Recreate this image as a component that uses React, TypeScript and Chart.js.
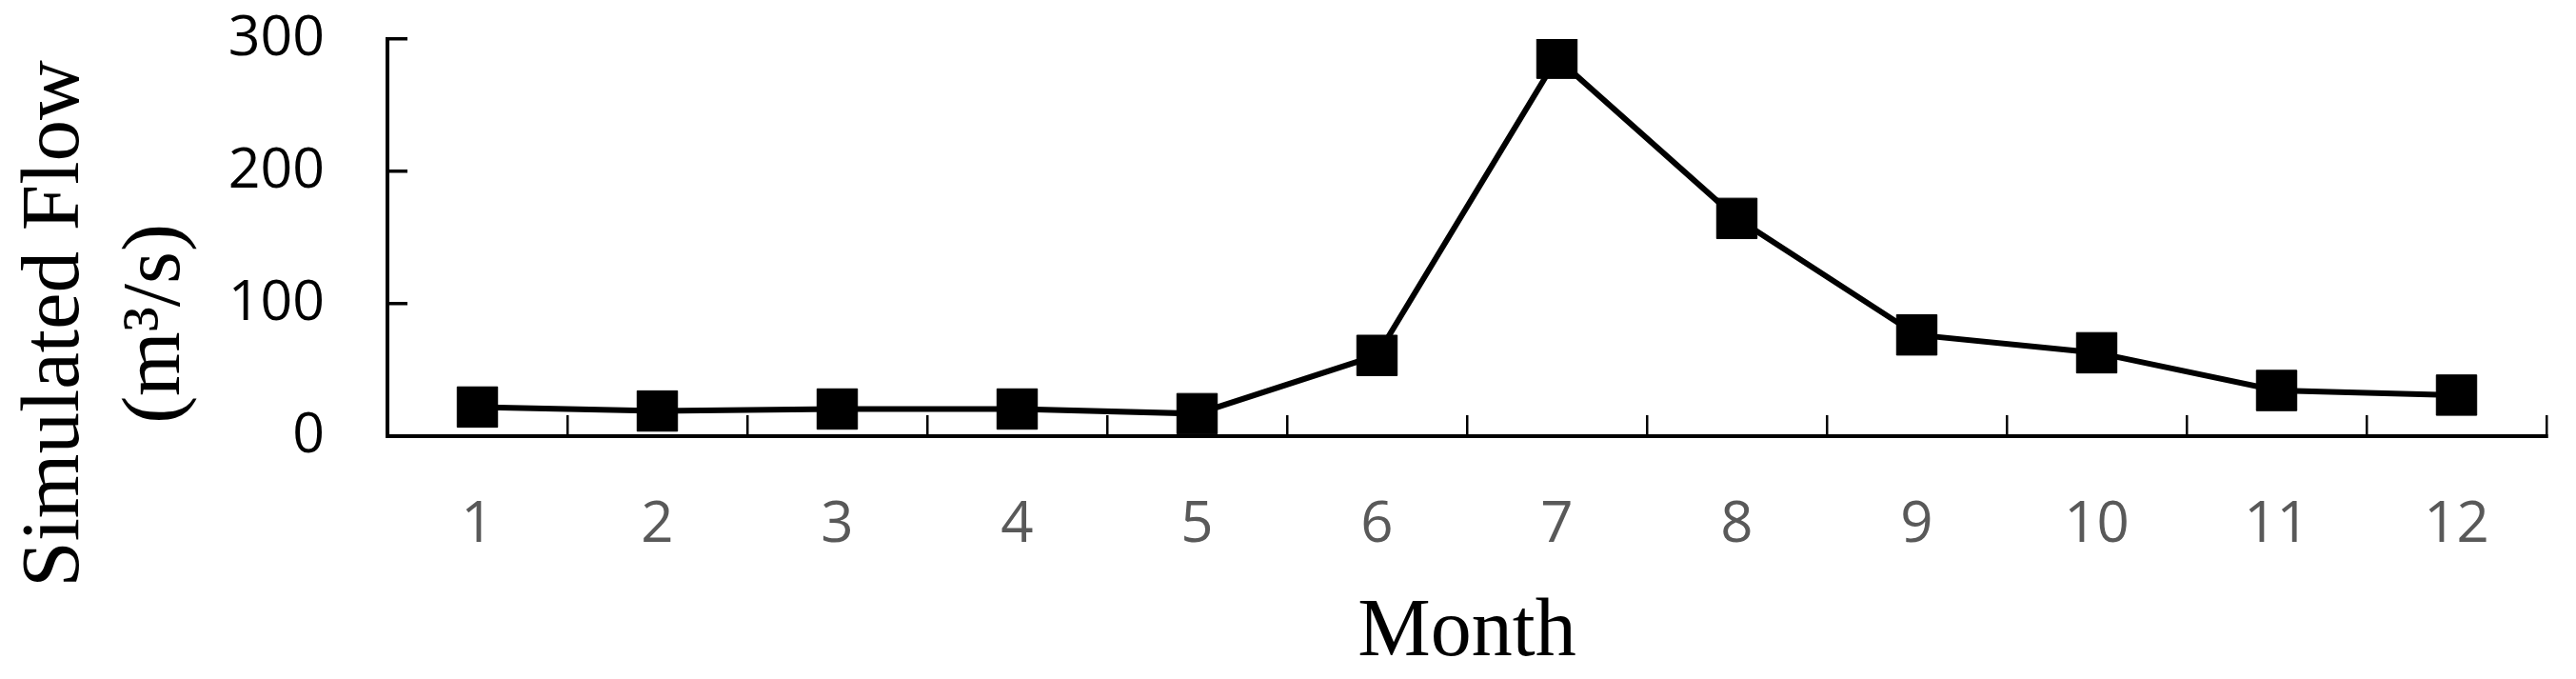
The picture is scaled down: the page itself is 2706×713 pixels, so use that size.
import React, { useEffect, useRef } from "react";
import { Chart, registerables } from "chart.js";

Chart.register(...registerables);

// ---- data ----
const months = ["1", "2", "3", "4", "5", "6", "7", "8", "9", "10", "11", "12"];
const simulatedFlow = [22, 19, 20.5, 20.5, 17, 61, 285.5, 164.5, 76.5, 63, 34.5, 31];
const yTickValues = [0, 100, 200, 300];
const yTitleLines = ["Simulated Flow", "(m³/s)"];
const xTitle = "Month";

const W = 2706;
const H = 713;

export default function App() {
  const ref = useRef<HTMLCanvasElement | null>(null);

  useEffect(() => {
    if (!ref.current) return;

    const yTitlePlugin = {
      id: "yTitleTwoLines",
      afterDraw(chart: any) {
        const ctx = chart.ctx;
        ctx.save();
        ctx.translate(0, 340);
        ctx.rotate(-Math.PI / 2);
        ctx.font = "87px 'Liberation Serif'";
        ctx.fillStyle = "#000000";
        ctx.textAlign = "center";
        ctx.textBaseline = "alphabetic";
        ctx.fillText(yTitleLines[0], 0, 82);
        ctx.fillText(yTitleLines[1], 0, 188);
        ctx.restore();
      },
    };

    const chart = new Chart(ref.current, {
      type: "line",
      data: {
        labels: months,
        datasets: [
          {
            label: "Simulated Flow",
            data: simulatedFlow,
            borderColor: "#000000",
            backgroundColor: "#000000",
            borderWidth: 6,
            pointStyle: "rect",
            pointRadius: 30,
            pointHoverRadius: 30,
            pointBorderWidth: 1,
            pointBackgroundColor: "#000000",
            pointBorderColor: "#000000",
            tension: 0,
            fill: false,
          },
        ],
      },
      options: {
        responsive: false,
        animation: false,
        devicePixelRatio: 1,
        layout: { padding: { left: 0, right: 21, top: 41, bottom: 0 } },
        plugins: {
          legend: { display: false },
          tooltip: { enabled: false },
        },
        scales: {
          x: {
            type: "category",
            offset: true,
            grid: {
              offset: true,
              drawOnChartArea: false,
              drawTicks: true,
              tickLength: -22,
              lineWidth: 2.5,
              color: "#000000",
            },
            border: { display: true, color: "#000000", width: 4 },
            ticks: {
              color: "#595959",
              padding: 80,
              font: { family: "'Open Sans'", size: 60 },
              maxRotation: 0,
              autoSkip: false,
            },
            title: {
              display: true,
              text: xTitle,
              color: "#000000",
              font: { family: "'Liberation Serif'", size: 86, lineHeight: 1.1 },
              padding: 0,
            },
            afterFit(scale: any) {
              scale.height = 255;
            },
          },
          y: {
            type: "linear",
            min: 0,
            max: 300,
            grid: {
              drawOnChartArea: false,
              drawTicks: true,
              tickLength: -21,
              lineWidth: 3.5,
              color: "#000000",
            },
            border: { display: true, color: "#000000", width: 4 },
            ticks: {
              color: "#000000",
              padding: 87,
              font: { family: "'Open Sans'", size: 59 },
            },
            afterBuildTicks(scale: any) {
              scale.ticks = yTickValues.map((v) => ({ value: v }));
            },
            afterFit(scale: any) {
              scale.width = 407;
              scale.paddingTop = 30;
              scale.paddingBottom = 30;
            },
          },
        },
      },
      plugins: [yTitlePlugin],
    } as any);

    return () => chart.destroy();
  }, []);

  return (
    <div
      style={{
        position: "fixed",
        left: 0,
        top: 0,
        width: W,
        height: H,
        background: "#ffffff",
      }}
    >
      <canvas ref={ref} width={W} height={H} style={{ display: "block" }} />
    </div>
  );
}
